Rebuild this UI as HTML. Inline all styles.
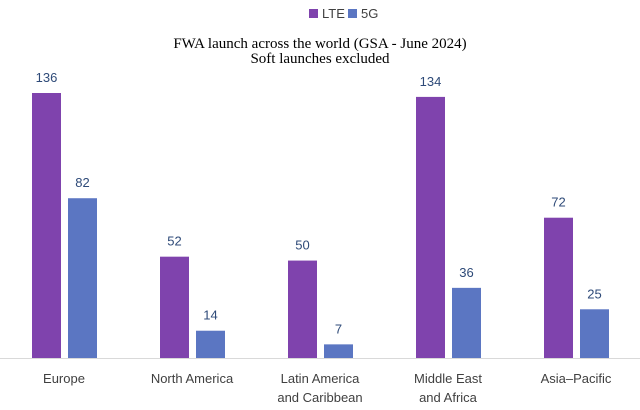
<!DOCTYPE html>
<html><head><meta charset="utf-8"><style>
body{margin:0;background:#fff;}
svg{display:block;}
</style></head><body>
<svg id="chart" width="640" height="410" xmlns="http://www.w3.org/2000/svg">
<g>
<rect x="309" y="9" width="9" height="9" fill="#7f43ad"/>
<text x="322" y="18" font-family="Liberation Sans, sans-serif" font-size="13" fill="#404040">LTE</text>
<rect x="348" y="9" width="9" height="9" fill="#5b76c2"/>
<text x="361" y="18" font-family="Liberation Sans, sans-serif" font-size="13" fill="#404040">5G</text>
</g>
<text x="320" y="48" text-anchor="middle" font-family="Liberation Serif, serif" font-size="15" fill="#000">FWA launch across the world (GSA - June 2024)</text>
<text x="320" y="63" text-anchor="middle" font-family="Liberation Serif, serif" font-size="15" fill="#000">Soft launches excluded</text>
<line x1="0" y1="358.5" x2="640" y2="358.5" stroke="#d9d9d9"/>
<g id="bars"></g>
</svg>
<script>
const categories = [["Europe"],["North America"],["Latin America","and Caribbean"],["Middle East","and Africa"],["Asia\u2013Pacific"]];
const lteValues = [136, 52, 50, 134, 72];
const fiveGValues = [82, 14, 7, 36, 25];
const NS = "http://www.w3.org/2000/svg";
const baseY = 358, scale = 265/136, band = 128, barW = 29;
const y = v => baseY - v*scale;
const xc = i => band*i + band/2;
const g = document.getElementById('bars');
function mk(tag, attrs){const e=document.createElementNS(NS,tag);for(const k in attrs)e.setAttribute(k,attrs[k]);g.appendChild(e);return e;}
categories.forEach((cat,i)=>{
  const series=[[lteValues[i],xc(i)-32,"#7f43ad","lte"],[fiveGValues[i],xc(i)+4,"#5b76c2","5g"]];
  series.forEach(([v,x,c,s])=>{
    const r=mk('rect',{x:x,y:y(v),width:barW,height:v*scale,fill:c});
    
    
    const t=mk('text',{x:x+barW/2,y:y(v)-11,'text-anchor':'middle','font-family':'Liberation Sans, sans-serif','font-size':'13',fill:'#2e4a78'});
    t.textContent=v;
    
    
  });
  cat.forEach((line,j)=>{
    const t=mk('text',{x:xc(i),y:383+j*19,'text-anchor':'middle','font-family':'Liberation Sans, sans-serif','font-size':'13',fill:'#404040'});
    t.textContent=line;
    
    
  });
});
</script>
</body></html>
